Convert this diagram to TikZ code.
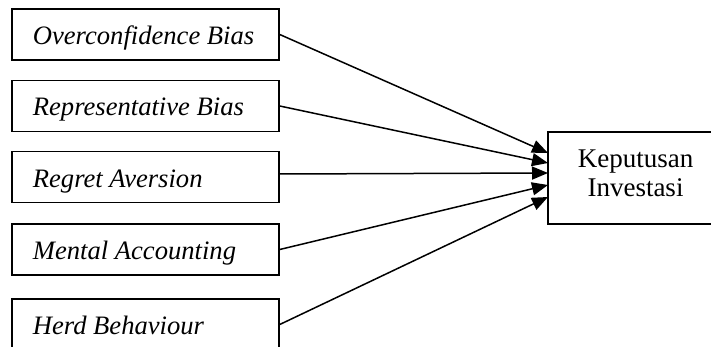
\documentclass[tikz,border=0pt]{standalone}
\usepackage{fontspec}
\setmainfont{Liberation Serif}
\usetikzlibrary{arrows.meta}
\begin{document}
\begin{tikzpicture}[x=0.5pt,y=-0.5pt,
  lbox/.style={draw,line width=0.75pt,minimum width=133.5pt,minimum height=25.5pt,inner sep=0pt},
  rbox/.style={draw,line width=0.75pt,minimum width=87.5pt,minimum height=46pt,inner sep=0pt},
  lbl/.style={font=\fontsize{13.3}{15}\selectfont\itshape,inner sep=0pt,anchor=base west},
  rlbl/.style={font=\fontsize{13.5}{15}\selectfont,inner sep=0pt,anchor=base},
  conn/.style={line width=0.75pt,-{Triangle[length=8pt,width=6.5pt]}}]
\useasboundingbox (0,0) rectangle (711,347);
\clip (0,0) rectangle (711,347);
\node[lbox] (b1) at (145.5,34.5) {};
\node[lbox] (b2) at (145.5,106) {};
\node[lbox] (b3) at (145.5,177) {};
\node[lbox] (b4) at (145.5,249.5) {};
\node[lbox] (b5) at (145.5,324.5) {};
\node[lbl] (l1) at (32.5,45) {Overconfidence Bias};
\node[lbl] (l2) at (32.5,115.5) {Representative Bias};
\node[lbl] (l3) at (32.5,187.5) {Regret Aversion};
\node[lbl] (l4) at (32.5,259.5) {Mental Accounting};
\node[lbl] (l5) at (32.5,334) {Herd Behaviour};
\node[rbox] (k) at (635.5,178) {};
\node[rlbl] (k1) at (635.5,168) {Keputusan};
\node[rlbl] (k2) at (635.5,197) {Investasi};
\coordinate (t1) at (548,153);
\coordinate (t2) at (548,163);
\coordinate (t3) at (548,173);
\coordinate (t4) at (548,185);
\coordinate (t5) at (548,197);
\draw[conn] (b1.east) -- (t1);
\draw[conn] (b2.east) -- (t2);
\draw[conn] ([yshift=1.5pt]b3.east) -- (t3);
\draw[conn] (b4.east) -- (t4);
\draw[conn] (b5.east) -- (t5);
\end{tikzpicture}
\end{document}
